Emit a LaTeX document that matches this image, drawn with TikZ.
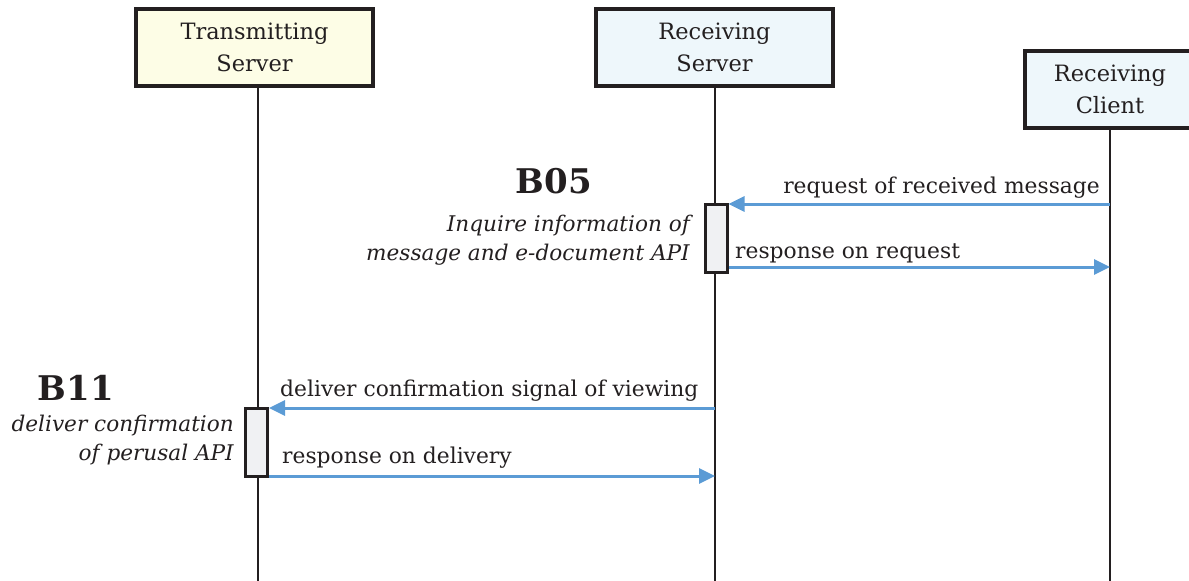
\documentclass[tikz,border=0pt]{standalone}
\usepackage{fontspec}
\setmainfont{DejaVu Serif}
\usetikzlibrary{arrows.meta}
\definecolor{boxline}{HTML}{231F20}
\definecolor{yel}{HTML}{FDFDE6}
\definecolor{blu}{HTML}{EEF7FB}
\definecolor{act}{HTML}{F0F1F3}
\definecolor{arr}{HTML}{5B9BD5}
\tikzset{
  actor/.style={draw=boxline, line width=3.2pt, minimum width=237pt, minimum height=77pt, align=center, inner sep=0pt, font=\fontsize{22.5}{32}\selectfont, text=boxline},
  life/.style={draw=boxline, line width=1.6pt},
  actbox/.style={draw=boxline, line width=3pt, fill=act, minimum width=22pt, minimum height=68pt, inner sep=0pt},
  msg/.style={draw=arr, line width=3pt, -{Triangle[length=16pt,width=15pt]}},
  lab/.style={font=\fontsize{21.8}{26}\selectfont, text=boxline, inner sep=0pt},
  note/.style={font=\fontsize{21.6}{29}\selectfont\itshape, text=boxline, inner sep=0pt, align=right},
  big/.style={font=\fontsize{34}{40}\selectfont\bfseries, text=boxline, inner sep=0pt}
}
\begin{document}
\begin{tikzpicture}[x=1pt,y=-1pt]
\useasboundingbox (0,0) rectangle (1189,581);
% lifelines
\coordinate (tsb) at (258,581);
\coordinate (rsb) at (715,581);
\coordinate (rcb) at (1110,581);
\node[actor, fill=yel] (ts) at (254.5,47.5) {Transmitting\\Server};
\node[actor, fill=blu] (rs) at (714.5,47.5) {Receiving\\Server};
\node[actor, fill=blu, minimum width=170pt] (rc) at (1110,89.5) {Receiving\\Client};
\draw[life] (ts.south -| tsb) -- (tsb);
\draw[life] (rs.south -| rsb) -- (rsb);
\draw[life] (rc.south -| rcb) -- (rcb);
% activation boxes
\node[actbox] (a1) at (716,238) {};
\node[actbox] (a2) at (256.5,442) {};
% B05 messages
\coordinate (c1) at (1110,204);
\coordinate (c2) at (1110,267);
\draw[msg] (c1) -- (c1 -| a1.east);
\draw[msg] (a1.east |- c2) -- (c2);
\node[lab, anchor=base east] (l1) at (1100,193) {request of received message};
\node[lab, anchor=base west] (l2) at (735,258) {response on request};
\node[big, anchor=base] (b05) at (554,193) {B05};
\node[note, anchor=north east] (n1) at (690,215) {Inquire information of\\message and e-document API};
% B11 messages
\coordinate (s1) at (715,408);
\coordinate (s2) at (715,476);
\draw[msg] (s1) -- (s1 -| a2.east);
\draw[msg] (a2.east |- s2) -- (s2);
\node[lab, anchor=base west] (l3) at (280,396) {deliver confirmation signal of viewing};
\node[lab, anchor=base west] (l4) at (282,463) {response on delivery};
\node[big, anchor=base] (b11) at (76,400) {B11};
\node[note, anchor=north east] (n2) at (234,415) {deliver confirmation\\of perusal API};
\end{tikzpicture}
\end{document}
